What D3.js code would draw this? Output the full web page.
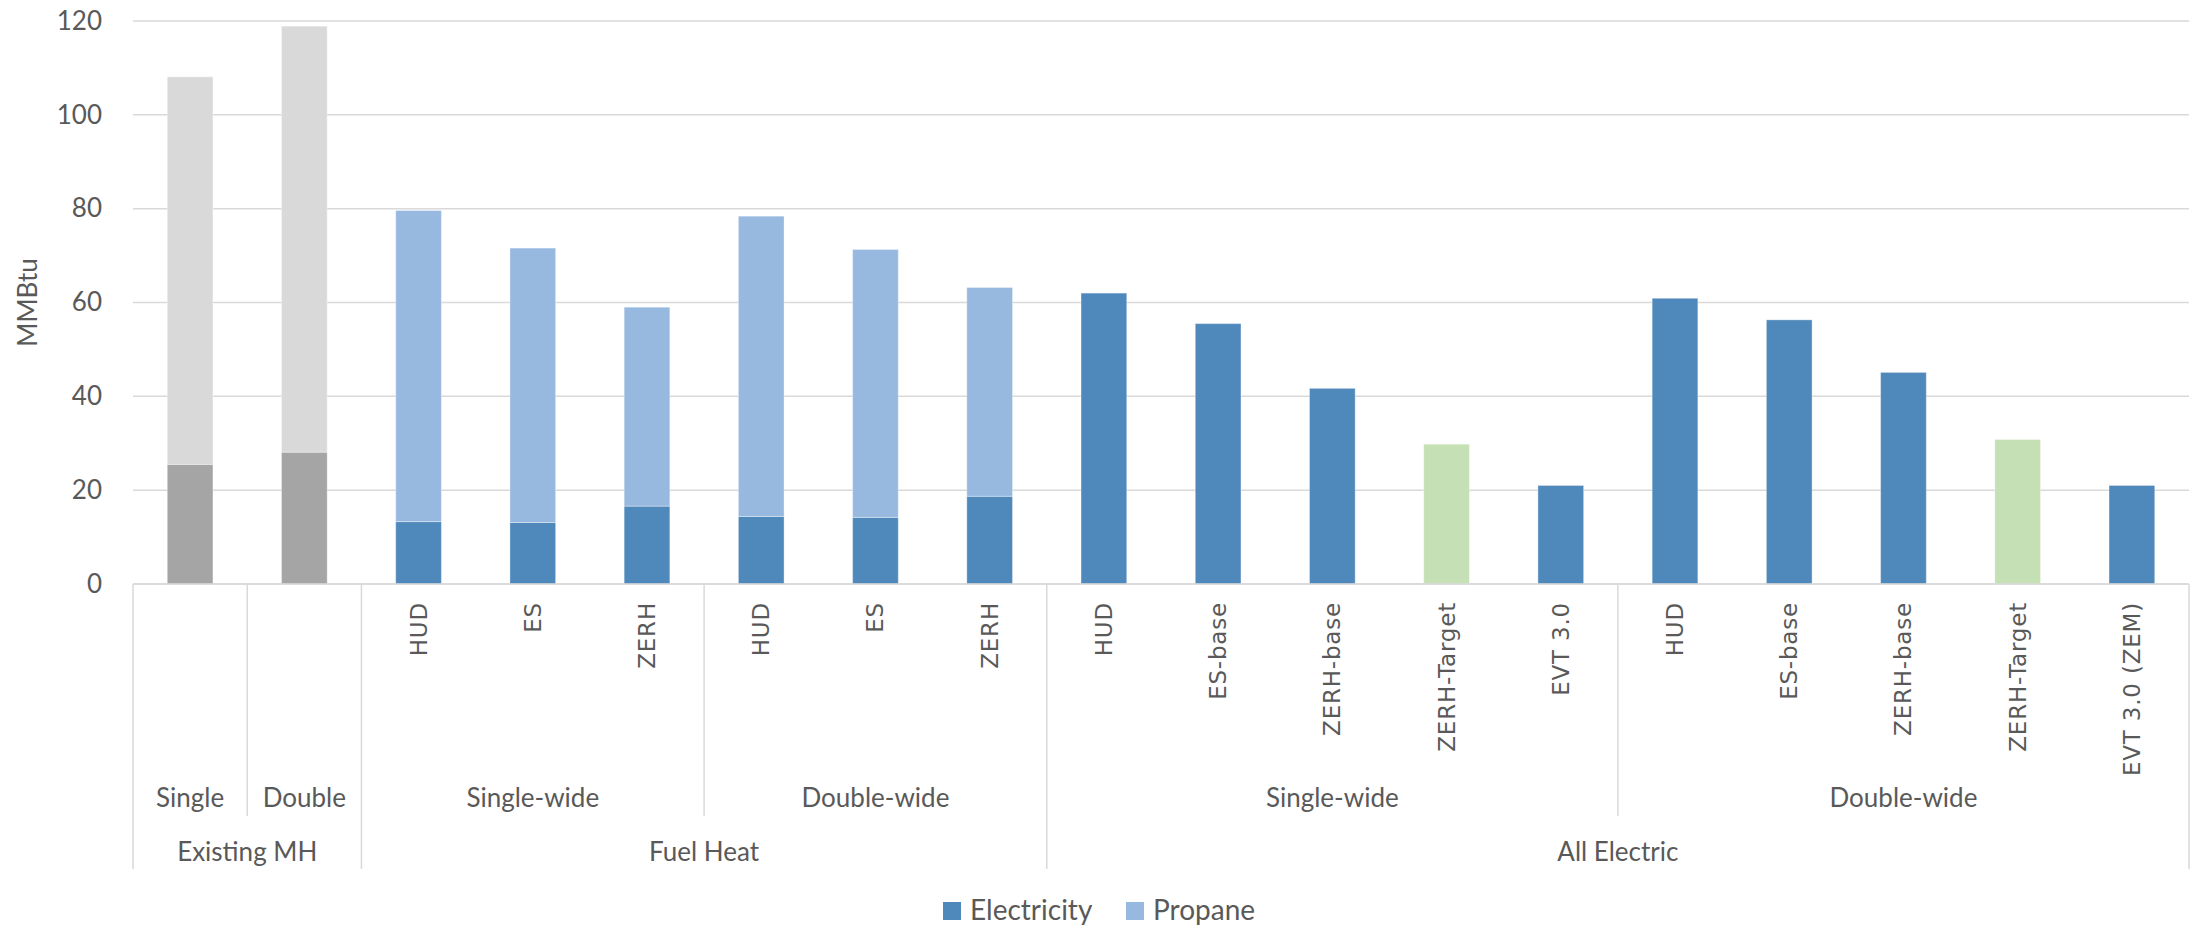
<!DOCTYPE html>
<html>
<head>
<meta charset="utf-8">
<script src="https://cdn.jsdelivr.net/npm/d3@7"></script>
<style>
  body { margin: 0; background: #fff; }
  text { fill: #595959; }
  .tick-label { font-family: Lato, "Open Sans", sans-serif; font-size: 26px; }
  .legend-label { font-family: Lato, "Open Sans", sans-serif; font-size: 28px; }
  .cat-label { font-family: "DejaVu Sans", sans-serif; font-size: 23px; letter-spacing: 0.8px; }
</style>
</head>
<body>
<div id="chart"></div>
<script>
// categories, inner level first
var categories = ["Single", "Double",
  "HUD", "ES", "ZERH", "HUD", "ES", "ZERH",
  "HUD", "ES-base", "ZERH-base", "ZERH-Target", "EVT 3.0",
  "HUD", "ES-base", "ZERH-base", "ZERH-Target", "EVT 3.0 (ZEM)"];
var subgroupNames = ["Single", "Double", "Single-wide", "Double-wide", "Single-wide", "Double-wide"];
var subgroupSizes = [1, 1, 3, 3, 5, 5];
var groupNames = ["Existing MH", "Fuel Heat", "All Electric"];
var groupSizes = [2, 6, 10];

// MMBtu
var electricity = [25.5, 28.1, 13.3, 13.1, 16.6, 14.4, 14.2, 18.7,
  62.0, 55.5, 41.7, 29.8, 21.0, 60.9, 56.3, 45.1, 30.8, 21.0];
var propane = [82.6, 90.8, 66.3, 58.5, 42.4, 64.0, 57.1, 44.5,
  0, 0, 0, 0, 0, 0, 0, 0, 0, 0];

var yTicks = [0, 20, 40, 60, 80, 100, 120];
var seriesNames = ["Electricity", "Propane"];

var W = 2198, H = 928;
var plot = {left: 133, right: 2189, top: 21, bottom: 584};
var row2Bottom = 816, row3Bottom = 869;

var svg = d3.select("#chart").append("svg")
    .attr("width", W)
    .attr("height", H);

var x = d3.scaleBand()
    .domain(d3.range(categories.length))
    .range([plot.left, plot.right])
    .paddingInner(0.6)
    .paddingOuter(0.3);
var step = x.step();

var y = d3.scaleLinear()
    .domain([0, 120])
    .range([plot.bottom, plot.top]);

// gridlines
svg.append("g")
    .selectAll("line")
    .data(yTicks)
    .enter().append("line")
    .attr("x1", plot.left)
    .attr("x2", plot.right)
    .attr("y1", function(d){ return y(d); })
    .attr("y2", function(d){ return y(d); })
    .attr("stroke", "#d9d9d9")
    .attr("stroke-width", 1.5);

// y axis labels
var yAxis = d3.axisLeft(y).tickValues(yTicks).tickSize(0).tickPadding(31);
var ya = svg.append("g")
    .attr("transform", "translate(" + plot.left + ",0)")
    .call(yAxis);
ya.select(".domain").remove();
ya.selectAll("text").attr("class", "tick-label").attr("fill", null);

svg.append("text")
    .attr("class", "tick-label")
    .attr("transform", "translate(37," + ((plot.top + plot.bottom) / 2) + ") rotate(-90)")
    .attr("text-anchor", "middle")
    .text("MMBtu");

// colours: existing homes grey, target green, rest blue
var groupOf = [];
groupSizes.forEach(function(n, g){ for (var k = 0; k < n; k++) groupOf.push(g); });
function colour(series, i) {
    if (groupOf[i] == 0) return series == 0 ? "#a5a5a5" : "#d9d9d9";
    if (categories[i] == "ZERH-Target") return "#c5e0b4";
    return series == 0 ? "#4f88bb" : "#98b9df";
}

var stack = categories.map(function(c, i){
    return [{s: 0, i: i, y0: 0, y1: electricity[i]},
            {s: 1, i: i, y0: electricity[i], y1: electricity[i] + propane[i]}];
});

svg.append("g")
    .selectAll("rect")
    .data(d3.merge(stack).filter(function(d){ return d.y1 > d.y0; }))
    .enter().append("rect")
    .attr("x", function(d){ return x(d.i); })
    .attr("width", x.bandwidth())
    .attr("y", function(d){ return y(d.y1); })
    .attr("height", function(d){ return y(d.y0) - y(d.y1); })
    .attr("fill", function(d){ return colour(d.s, d.i); })
    .attr("stroke", "#ffffff")
    .attr("stroke-opacity", 0.35)
    .attr("stroke-width", 1);

// category axis
svg.append("line")
    .attr("x1", plot.left).attr("x2", plot.right)
    .attr("y1", plot.bottom).attr("y2", plot.bottom)
    .attr("stroke", "#d9d9d9").attr("stroke-width", 1.5);

// inner labels, rotated (only where a subgroup has several members)
var subStart = [], acc = 0;
subgroupSizes.forEach(function(n){ subStart.push(acc); acc += n; });
var grpStart = [];
acc = 0;
groupSizes.forEach(function(n){ grpStart.push(acc); acc += n; });

var rotated = categories.map(function(c, i){ return i; })
    .filter(function(i){ return subgroupSizes[subStart.filter(function(s){ return s <= i; }).length - 1] > 1; });

svg.append("g")
    .selectAll("text")
    .data(rotated)
    .enter().append("text")
    .attr("class", "cat-label")
    .attr("transform", function(i){ return "translate(" + (x(i) + x.bandwidth() / 2 + 8) + "," + (plot.bottom + 18) + ") rotate(-90)"; })
    .attr("text-anchor", "end")
    .text(function(i){ return categories[i]; });

// subgroup labels
svg.append("g")
    .selectAll("text")
    .data(subgroupNames)
    .enter().append("text")
    .attr("class", "tick-label")
    .attr("x", function(d, k){ return plot.left + step * (subStart[k] + subgroupSizes[k] / 2); })
    .attr("y", 807)
    .attr("text-anchor", "middle")
    .text(function(d){ return d; });

// group labels
svg.append("g")
    .selectAll("text")
    .data(groupNames)
    .enter().append("text")
    .attr("class", "tick-label")
    .attr("x", function(d, k){ return plot.left + step * (grpStart[k] + groupSizes[k] / 2); })
    .attr("y", 861)
    .attr("text-anchor", "middle")
    .text(function(d){ return d; });

// separators
var subEdges = subStart.filter(function(s){ return grpStart.indexOf(s) < 0; });
var grpEdges = grpStart.concat([categories.length]);
svg.append("g")
    .selectAll("line")
    .data(subEdges)
    .enter().append("line")
    .attr("x1", function(s){ return plot.left + step * s; })
    .attr("x2", function(s){ return plot.left + step * s; })
    .attr("y1", plot.bottom).attr("y2", row2Bottom)
    .attr("stroke", "#d9d9d9").attr("stroke-width", 1.5);
svg.append("g")
    .selectAll("line")
    .data(grpEdges)
    .enter().append("line")
    .attr("x1", function(s){ return plot.left + step * s; })
    .attr("x2", function(s){ return plot.left + step * s; })
    .attr("y1", plot.bottom).attr("y2", row3Bottom)
    .attr("stroke", "#d9d9d9").attr("stroke-width", 1.5);

// legend
var legendX = [943, 1126];
var legend = svg.append("g")
    .selectAll("g")
    .data(seriesNames)
    .enter().append("g")
    .attr("transform", function(d, k){ return "translate(" + legendX[k] + ",902)"; });
legend.append("rect")
    .attr("width", 18).attr("height", 18)
    .attr("fill", function(d, k){ return k == 0 ? "#4f88bb" : "#98b9df"; });
legend.append("text")
    .attr("class", "legend-label")
    .attr("x", 27)
    .attr("y", 18)
    .text(function(d){ return d; });
</script>
</body>
</html>
